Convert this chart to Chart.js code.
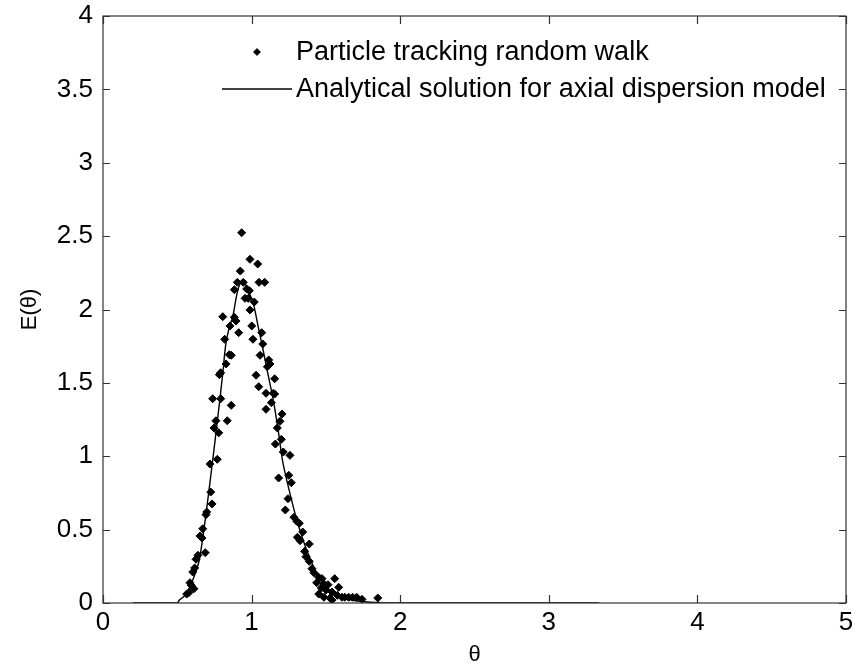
<!DOCTYPE html>
<html>
<head>
<meta charset="utf-8">
<script src="https://cdn.jsdelivr.net/npm/chart.js@4/dist/chart.umd.min.js"></script>
<style>
html,body{margin:0;padding:0;background:#fff;}
#wrap{width:855px;height:668px;}
</style>
</head>
<body>
<div id="wrap"><canvas id="grafico" width="855" height="668"></canvas></div>
<script>
// pontos da simulacao (random walk)
var tetaPontos = [0.933,0.989,1.041,0.924,0.904,0.944,1.050,1.088,0.884,0.967,0.985,0.956,0.978,1.018,0.989,0.806,0.884,0.895,0.855,1.001,0.913,1.068,0.819,1.009,1.075,
  0.850,0.863,1.057,0.828,0.792,0.783,1.030,1.048,1.097,0.738,0.792,0.863,1.097,0.760,0.836,0.747,0.779,0.720,0.769,
  1.115,1.124,1.106,1.155,1.146,1.155,1.133,1.205,1.191,1.173,1.200,1.160,1.213,1.258,
  0.725,0.734,0.698,0.693,0.671,0.653,0.666,0.688,0.639,0.626,0.617,0.604,0.585,0.594,0.612,0.563,0.577,
  1.182,1.250,1.267,1.245,1.227,1.285,1.304,1.321,1.344,1.308,1.326,1.388,1.357,1.366,1.388,1.406,1.420,1.452,1.474,1.559,1.438,1.487,1.514,1.586,1.469,1.501,1.541,1.452,1.487,1.528,1.577,1.608,1.627,1.653,1.680,1.707,1.541,
  1.743,1.849];
var ePontos = [2.523,2.342,2.310,2.262,2.185,2.185,2.185,2.185,2.135,2.140,2.128,2.076,2.076,2.051,1.997,1.951,1.947,1.922,1.888,1.888,1.842,1.842,1.797,1.797,1.765,
  1.692,1.688,1.688,1.629,1.569,1.556,1.552,1.474,1.429,1.392,1.392,1.347,1.320,1.242,1.242,1.193,1.160,0.947,0.979,
  1.656,1.629,1.610,1.528,1.429,1.424,1.365,1.288,1.238,1.193,1.115,1.083,1.029,1.006,
  0.756,0.675,0.620,0.602,0.506,0.457,0.443,0.343,0.325,0.298,0.239,0.211,0.138,0.121,0.097,0.061,0.070,
  0.852,0.870,0.820,0.711,0.634,0.584,0.557,0.543,0.484,0.448,0.425,0.402,0.352,0.316,0.284,0.234,0.206,0.175,0.166,0.166,0.138,0.129,0.125,0.107,0.102,0.089,0.075,0.061,0.039,0.034,0.052,0.039,0.039,0.039,0.039,0.039,0.020,
  0.025,0.034];

// solucao analitica
var tetaLinha = [0.2,0.5,0.514,0.55,0.585,0.62,0.648,0.682,0.733,0.758,0.781,0.806,0.826,0.85,0.873,0.9,0.92,0.94,0.96,0.985,1.012,1.045,1.075,1.11,1.146,1.18,1.21,1.258,1.304,1.34,1.371,1.438,1.5,1.55,1.62,1.7,1.8,1.9,3.34];
var eLinha = [0,0,0.02,0.05,0.111,0.2,0.293,0.52,0.93,1.14,1.34,1.565,1.76,1.88,1.95,2.1,2.17,2.19,2.17,2.11,2.04,1.88,1.736,1.56,1.383,1.17,0.96,0.747,0.566,0.45,0.361,0.202,0.115,0.07,0.035,0.015,0.005,0,0];

var ticksX = [0,1,2,3,4,5];
var ticksY = [0,0.5,1,1.5,2,2.5,3,3.5,4];
var legendas = ["Particle tracking random walk","Analytical solution for axial dispersion model"];

var fonte = '"Liberation Sans", Arial, sans-serif';

function juntar(xs, ys){
  var r = [];
  for (var i = 0; i < xs.length; i++) r.push({x: xs[i], y: ys[i]});
  return r;
}

// caixa, ticks para dentro e legenda estilo matlab
var estiloMatlab = {
  id: 'estiloMatlab',
  afterDraw: function(chart){
    var ctx = chart.ctx;
    var a = chart.chartArea;
    var sx = chart.scales.x, sy = chart.scales.y;
    ctx.save();
    ctx.strokeStyle = '#333';
    ctx.lineWidth = 1.2;
    ctx.strokeRect(a.left, a.top, a.right - a.left, a.bottom - a.top);
    ctx.beginPath();
    ticksX.forEach(function(v){
      var p = Math.round(sx.getPixelForValue(v)) + 0.5;
      ctx.moveTo(p, a.bottom); ctx.lineTo(p, a.bottom - 8);
      ctx.moveTo(p, a.top); ctx.lineTo(p, a.top + 8);
    });
    ticksY.forEach(function(v){
      var p = Math.round(sy.getPixelForValue(v)) + 0.5;
      ctx.moveTo(a.left, p); ctx.lineTo(a.left + 7, p);
      ctx.moveTo(a.right, p); ctx.lineTo(a.right - 7, p);
    });
    ctx.stroke();

    // legenda
    var ds = chart.data.datasets;
    ctx.font = '27px ' + fonte;
    ctx.fillStyle = '#000';
    ctx.textBaseline = 'middle';
    Chart.helpers.drawPoint(ctx, {pointStyle: 'rectRot', radius: 3.2, borderWidth: 1}, 257, 52);
    ctx.fillStyle = ds[0].backgroundColor;
    ctx.fill();
    ctx.fillStyle = '#000';
    ctx.fillText(legendas[0], 296, 53);
    ctx.beginPath();
    ctx.strokeStyle = ds[1].borderColor;
    ctx.lineWidth = ds[1].borderWidth;
    ctx.moveTo(222, 89); ctx.lineTo(292, 89);
    ctx.stroke();
    ctx.fillText(legendas[1], 296, 90);
    ctx.restore();
  }
};

function semSobra(s){
  s.paddingTop = 0; s.paddingBottom = 0; s.paddingLeft = 0; s.paddingRight = 0;
}

var ctx = document.getElementById('grafico').getContext('2d');
var grafico = new Chart(ctx, {
  type: 'scatter',
  data: {
    datasets: [{
      label: legendas[0],
      data: juntar(tetaPontos, ePontos),
      showLine: false,
      pointStyle: 'rectRot',
      pointRadius: 4,
      backgroundColor: '#000',
      borderColor: '#000',
      borderWidth: 1
    }, {
      label: legendas[1],
      data: juntar(tetaLinha, eLinha),
      showLine: true,
      pointRadius: 0,
      borderColor: '#000',
      borderWidth: 1.4,
      tension: 0.3,
      fill: false
    }]
  },
  options: {
    responsive: false,
    animation: false,
    devicePixelRatio: 1,
    layout: {padding: {top: 16, right: 9, left: 0, bottom: 0}},
    plugins: {legend: {display: false}, tooltip: {enabled: false}},
    scales: {
      x: {
        type: 'linear', min: 0, max: 5,
        afterBuildTicks: function(s){ s.ticks = ticksX.map(function(v){ return {value: v}; }); },
        afterFit: function(s){ s.height = 65; semSobra(s); },
        grid: {display: false, drawTicks: false},
        border: {display: false},
        ticks: {color: '#000', font: {family: fonte, size: 26}, padding: 4, maxRotation: 0,
          callback: function(v){ return String(v); }},
        title: {display: true, text: 'θ', color: '#000', font: {family: fonte, size: 22}, padding: {top: 0, bottom: 0}}
      },
      y: {
        type: 'linear', min: 0, max: 4,
        afterBuildTicks: function(s){ s.ticks = ticksY.map(function(v){ return {value: v}; }); },
        afterFit: function(s){ s.width = 103; semSobra(s); },
        grid: {display: false, drawTicks: false},
        border: {display: false},
        ticks: {color: '#000', font: {family: fonte, size: 26}, padding: 10,
          callback: function(v){ return String(v); }},
        title: {display: true, text: 'E(θ)', color: '#000', font: {family: fonte, size: 22}, padding: {top: 17, bottom: 0}}
      }
    }
  },
  plugins: [estiloMatlab]
});
</script>
</body>
</html>
